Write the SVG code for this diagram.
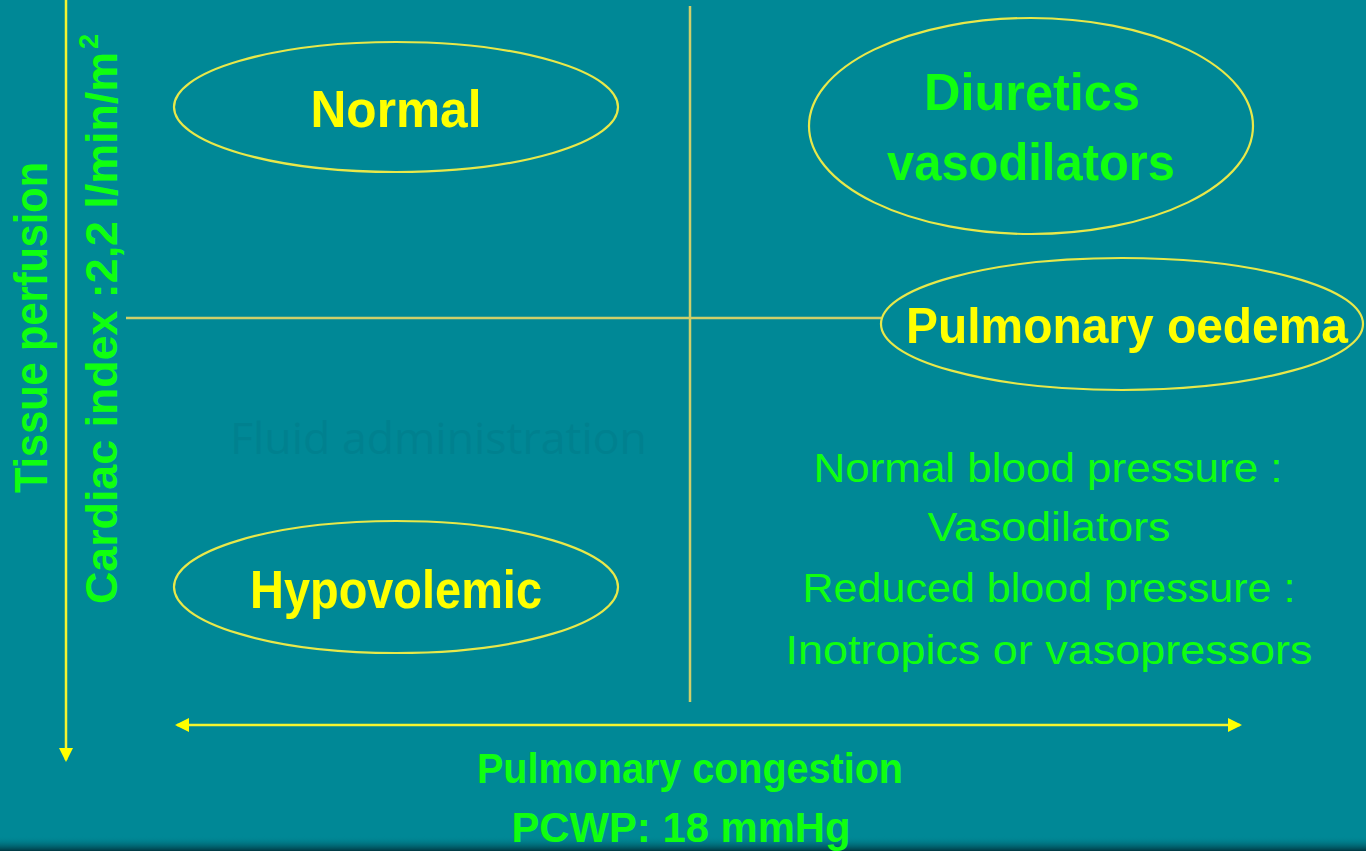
<svg xmlns="http://www.w3.org/2000/svg" width="1366" height="851" viewBox="0 0 1366 851">
<defs>
<style>
.bg{fill:#008896}
.ell{fill:none;stroke:#e8e84a;stroke-width:2.2}
.grid{stroke:#cfcf6a;stroke-width:2.5;fill:none}
.axis{stroke:#f4f430;stroke-width:2.5;fill:none}
.yb{font-family:"Liberation Sans",Arial,sans-serif;font-weight:bold;fill:#ffff00;text-anchor:middle}
.gb{font-family:"Liberation Sans",Arial,sans-serif;font-weight:bold;fill:#10ff10}
.gr{font-family:"Liberation Sans",Arial,sans-serif;fill:#10ff10;text-anchor:middle}
.faint{font-family:"Open Sans","Liberation Sans",sans-serif;fill:#00818f}
</style>
<marker id="ah" viewBox="0 0 14 14" refX="12" refY="7" markerWidth="14" markerHeight="14" markerUnits="userSpaceOnUse" orient="auto-start-reverse">
<path d="M0,0 L14,7 L0,14 Z" fill="#ffff00"/>
</marker>
<linearGradient id="shade" x1="0" y1="0" x2="0" y2="1">
<stop offset="0" stop-color="#008896" stop-opacity="0"/>
<stop offset="1" stop-color="#00303a" stop-opacity="0.9"/>
</linearGradient>
</defs>
<rect class="bg" x="0" y="0" width="1366" height="851"/>
<rect x="0" y="836" width="1366" height="15" fill="url(#shade)"/>

<g id="connectors">
<line class="grid" x1="690" y1="6" x2="690" y2="702"/>
<line class="grid" x1="126" y1="318" x2="881" y2="318"/>
<line class="axis" x1="66" y1="0" x2="66" y2="760" marker-end="url(#ah)"/>
<line class="axis" x1="177" y1="725" x2="1240" y2="725" marker-start="url(#ah)" marker-end="url(#ah)"/>
</g>

<g id="axis-y-labels">
<text class="gb" font-size="46" transform="translate(47,493) rotate(-90)" textLength="331" lengthAdjust="spacingAndGlyphs">Tissue perfusion</text>
<text class="gb" font-size="44" transform="translate(117,604) rotate(-90)"><tspan textLength="552" lengthAdjust="spacingAndGlyphs">Cardiac index :2,2 l/min/m</tspan><tspan font-size="27" dx="3" dy="-19">2</tspan></text>
</g>

<g id="node-normal">
<ellipse class="ell" cx="396" cy="107" rx="222" ry="65"/>
<text class="yb" x="396" y="127" font-size="52" textLength="171" lengthAdjust="spacingAndGlyphs">Normal</text>
</g>

<g id="node-diuretics">
<ellipse class="ell" cx="1031" cy="126" rx="222" ry="108"/>
<text class="gb" x="1032" y="110" font-size="52" text-anchor="middle" textLength="216" lengthAdjust="spacingAndGlyphs">Diuretics</text>
<text class="gb" x="1031" y="180" font-size="52" text-anchor="middle" textLength="288" lengthAdjust="spacingAndGlyphs">vasodilators</text>
</g>

<g id="node-oedema">
<ellipse class="ell" cx="1122" cy="324" rx="241" ry="66"/>
<text class="yb" x="1127" y="343" font-size="50" textLength="442" lengthAdjust="spacingAndGlyphs">Pulmonary oedema</text>
</g>

<g id="node-hypovolemic">
<ellipse class="ell" cx="396" cy="587" rx="222" ry="66"/>
<text class="yb" x="396" y="608" font-size="53" textLength="292" lengthAdjust="spacingAndGlyphs">Hypovolemic</text>
</g>

<g id="fluid">
<text class="faint" x="230" y="454" font-size="44" textLength="417" lengthAdjust="spacingAndGlyphs">Fluid administration</text>
</g>

<g id="bp-text">
<text class="gr" x="1048" y="482" font-size="41" textLength="469" lengthAdjust="spacingAndGlyphs">Normal blood pressure :</text>
<text class="gr" x="1049" y="541" font-size="41" textLength="243" lengthAdjust="spacingAndGlyphs">Vasodilators</text>
<text class="gr" x="1049" y="602" font-size="41" textLength="493" lengthAdjust="spacingAndGlyphs">Reduced blood pressure :</text>
<text class="gr" x="1049" y="664" font-size="41" textLength="527" lengthAdjust="spacingAndGlyphs">Inotropics or vasopressors</text>
</g>

<g id="axis-x-labels">
<text class="gb" x="690" y="783" font-size="42" text-anchor="middle" textLength="426" lengthAdjust="spacingAndGlyphs">Pulmonary congestion</text>
<text class="gb" x="681" y="842" font-size="42" text-anchor="middle" textLength="339" lengthAdjust="spacingAndGlyphs">PCWP: 18 mmHg</text>
</g>
</svg>
